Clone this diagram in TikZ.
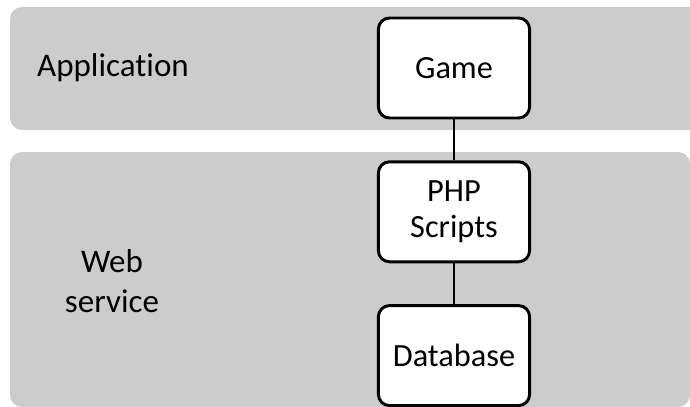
\documentclass[tikz,border=0pt]{standalone}
\usepackage{fontspec}
\setmainfont{Carlito}[Ligatures=NoCommon]
\usepackage{xcolor}
\usetikzlibrary{positioning}
\definecolor{bandgray}{HTML}{CCCCCC}

\begin{document}
\begin{tikzpicture}[
    x=0.025cm, y=-0.025cm,
    node distance=1.02cm,
    band/.style={fill=bandgray, rounded corners=0.3cm},
    box/.style={rectangle, draw, fill=white, line width=2.1pt, rounded corners=0.28cm,
        minimum width=3.78cm, minimum height=2.5cm, align=center,
        font=\fontsize{23}{26}\selectfont},
    layer/.style={align=center, font=\fontsize{23.5}{28}\selectfont},
    link/.style={line width=2.1pt}
]
\useasboundingbox (0,0) rectangle (690,407);
\clip (0,0) rectangle (690,407);

% Layers
\fill[band] (10,7) rectangle (740,130);
\fill[band] (10,152) rectangle (690,407);

\node[layer] (app) at (113,68) {Application};
\node[layer] (web) at (112,281) {Web\\service};

% Components
\node[box] (game) at (454,68) {Game};
\node[box, below=of game] (php) {PHP\\Scripts};
\node[box, below=of php] (db) {Database};

% Links
\draw[link] (game) -- (php);
\draw[link] (php) -- (db);

\end{tikzpicture}
\end{document}
